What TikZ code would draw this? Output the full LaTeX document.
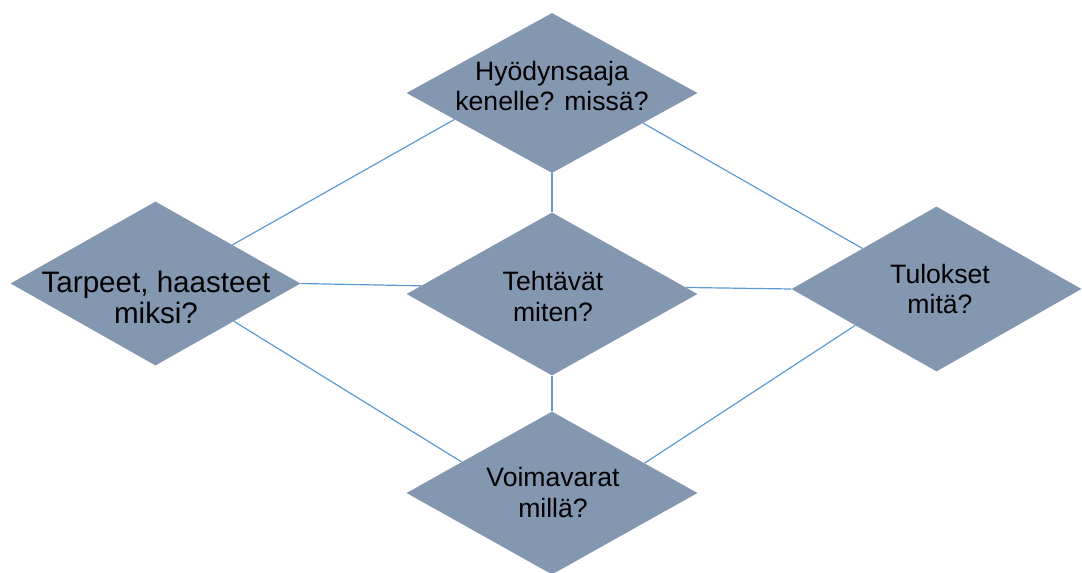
\documentclass[tikz,border=0pt]{standalone}
\usepackage{fontspec}
\setmainfont{Liberation Sans}
\usetikzlibrary{shapes.geometric,calc,backgrounds}

\definecolor{boxfill}{HTML}{8497B0}
\definecolor{linkblue}{HTML}{5B9BD5}

\tikzset{
  rhomb/.style={shape=diamond, fill=boxfill, draw=none, inner sep=0pt,
    minimum width=291pt, minimum height=163pt},
  caption/.style={align=center, text=black, inner sep=0pt,
    font=\fontsize{26.6pt}{30.5pt}\selectfont},
  bigcaption/.style={caption, font=\fontsize{29.6pt}{31.8pt}\selectfont},
  link/.style={draw=linkblue, line width=1.2pt},
}

\begin{document}
\begin{tikzpicture}[x=1pt, y=-1pt]
  \clip (0,0) rectangle (1082,573);

  % the five diamonds
  \node[rhomb, minimum height=160pt] (T) at (552,93) {};
  \node[rhomb, minimum width=290pt, minimum height=164pt] (L) at (155.5,283.5) {};
  \node[rhomb] (C) at (552,294) {};
  \node[rhomb, minimum width=290pt, minimum height=165pt] (R) at (936.5,289) {};
  \node[rhomb] (B) at (552,493) {};

  % their texts
  \node[caption] (Tt) at (552,86) {Hyödynsaaja\\kenelle? missä?};
  \node[bigcaption] (Lt) at (156,297.5) {Tarpeet, haasteet\\miksi?};
  \node[caption] (Ct) at (553,296.5) {Tehtävät\\miten?};
  \node[caption] (Rt) at (940,289) {Tulokset\\mitä?};
  \node[caption] (Bt) at (553,492.5) {Voimavarat\\millä?};

  % connectors behind the diamonds
  \begin{scope}[on background layer]
    \draw[link] (T.south) -- (C.north);
    \draw[link] (C.south) -- (B.north);
    \draw[link] (L.east) -- ($(C.west)!0.1!(C.north)$);
    \draw[link] ($(C.east)!0.08!(C.north)$) -- (R.west);
    \draw[link] ($(T.west)!0.33!(T.south)$) -- ($(L.east)!0.47!(L.north)$);
    \draw[link] ($(T.east)!0.375!(T.south)$) -- ($(R.west)!0.49!(R.north)$);
    \draw[link] ($(L.east)!0.46!(L.south)$) -- ($(B.west)!0.38!(B.north)$);
    \draw[link] ($(R.west)!0.44!(R.south)$) -- ($(B.east)!0.365!(B.north)$);
  \end{scope}
\end{tikzpicture}
\end{document}
